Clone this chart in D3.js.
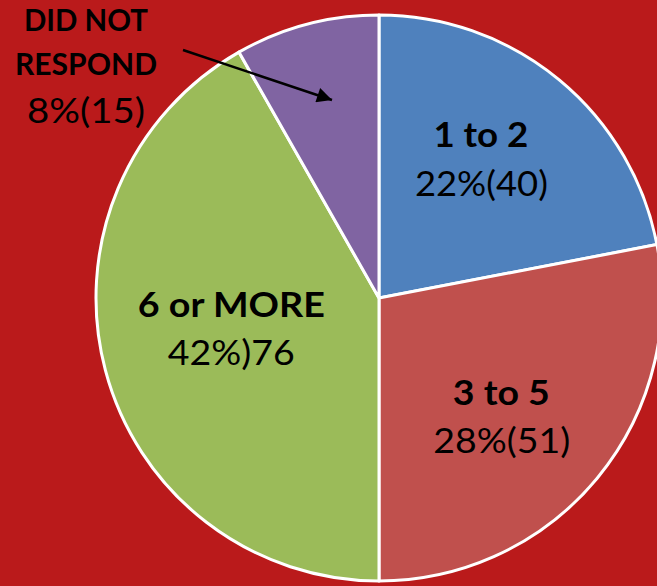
<!DOCTYPE html>
<html><head><meta charset="utf-8">
<script src="https://cdn.jsdelivr.net/npm/d3@7"></script>
<style>html,body{margin:0;padding:0;background:#BA1A1B;overflow:hidden}svg{display:block}</style>
</head><body>
<svg id="c" width="657" height="586"></svg>
<script>
const categories = ["1 to 2", "3 to 5", "6 or MORE", "DID NOT RESPOND"];
const values = [40, 51, 76, 15];
const valueLabels = ["22%(40)", "28%(51)", "42%)76", "8%(15)"];
const colors = ["#4F81BD", "#C0504D", "#9BBB59", "#8064A2"];

const W = 657, H = 586, cx = 379, cy = 298, R = 283;
const svg = d3.select("#c");
svg.append("rect").attr("width", W).attr("height", H).attr("fill", "#BA1A1B");
const g = svg.append("g").attr("transform", `translate(${cx},${cy})`);
const pie = d3.pie().sort(null).value(d => d)(values);
const arc = d3.arc().innerRadius(0).outerRadius(R);
g.selectAll("path").data(pie).join("path")
  .attr("d", arc).attr("fill", (d, i) => colors[i])
  .attr("stroke", "#fff").attr("stroke-width", 3).attr("stroke-linejoin", "round");

const font = "Lato, 'Open Sans', sans-serif";
const labelArc = d3.arc().innerRadius(160).outerRadius(160);
const adjCat = [[0, -27.5], [-1, 5], [7, -22]];
const adjVal = [[0.5, 21.5], [-0.5, 53], [7, 26]];
const wCat = [95, 97, 187];
const wVal = [133, 137, 127];
[0, 1, 2].forEach(i => {
  const [x, y] = labelArc.centroid(pie[i]);
  g.append("text").attr("text-anchor", "middle").attr("fill", "#000").attr("font-family", font)
    .attr("x", x + adjCat[i][0]).attr("y", y + adjCat[i][1]).attr("font-weight", "bold").attr("font-size", 34)
    .attr("textLength", wCat[i]).attr("lengthAdjust", "spacingAndGlyphs").text(categories[i]);
  g.append("text").attr("text-anchor", "middle").attr("fill", "#000").attr("font-family", font)
    .attr("x", x + adjVal[i][0]).attr("y", y + adjVal[i][1]).attr("font-size", 35)
    .attr("textLength", wVal[i]).attr("lengthAdjust", "spacingAndGlyphs").text(valueLabels[i]);
});

const outLines = ["DID NOT", "RESPOND"];
const outY = [31, 75], outW = [124, 142];
outLines.forEach((s, j) => {
  svg.append("text").attr("text-anchor", "middle").attr("fill", "#000").attr("font-family", font)
    .attr("x", 86).attr("y", outY[j]).attr("font-weight", "bold").attr("font-size", 31)
    .attr("textLength", outW[j]).attr("lengthAdjust", "spacingAndGlyphs").text(s);
});
svg.append("text").attr("text-anchor", "middle").attr("fill", "#000").attr("font-family", font)
  .attr("x", 86).attr("y", 123).attr("font-size", 34)
  .attr("textLength", 118).attr("lengthAdjust", "spacingAndGlyphs").text(valueLabels[3]);

svg.append("defs").append("marker").attr("id", "ah").attr("viewBox", "0 0 10 10")
  .attr("refX", 10).attr("refY", 5).attr("markerWidth", 6.5).attr("markerHeight", 6)
  .attr("markerUnits", "strokeWidth").attr("orient", "auto")
  .append("path").attr("d", "M0,0 L10,5 L0,10 z").attr("fill", "#000");
svg.append("line").attr("x1", 183).attr("y1", 50).attr("x2", 332).attr("y2", 100)
  .attr("stroke", "#000").attr("stroke-width", 2.5).attr("marker-end", "url(#ah)");
</script>
</body></html>
